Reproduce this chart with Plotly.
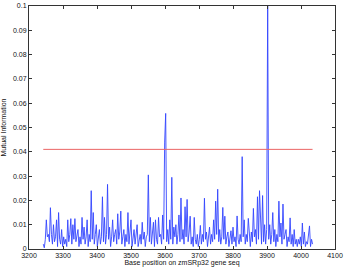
import plotly.graph_objects as go

start_bp = 3242
step_bp = 3
mi_values = [
    0.002, 0.0005, 0.004, 0.012, 0.005, 0.006, 0.003, 0.017, 0.006, 0.002,
    0.010, 0.003, 0.005, 0.012, 0.001, 0.015, 0.004, 0.002, 0.008, 0.001,
    0.005, 0.002, 0.004, 0.001, 0.012, 0.003, 0.006, 0.0125, 0.002, 0.010,
    0.004, 0.0125, 0.003, 0.006, 0.008, 0.001, 0.005, 0.002, 0.013, 0.004,
    0.009, 0.002, 0.005, 0.012, 0.001, 0.006, 0.003, 0.024, 0.004, 0.015,
    0.002, 0.006, 0.010, 0.001, 0.004, 0.008, 0.002, 0.005, 0.0215, 0.003,
    0.013, 0.002, 0.006, 0.0266, 0.004, 0.009, 0.001, 0.005, 0.012, 0.003,
    0.006, 0.008, 0.002, 0.0145, 0.004, 0.007, 0.0156, 0.002, 0.005, 0.008,
    0.001, 0.006, 0.003, 0.015, 0.002, 0.007, 0.012, 0.001, 0.004, 0.008,
    0.002, 0.005, 0.010, 0.001, 0.003, 0.006, 0.002, 0.011, 0.004, 0.007,
    0.001, 0.005, 0.006, 0.0305, 0.003, 0.013, 0.002, 0.006, 0.011, 0.001,
    0.012, 0.004, 0.002, 0.013, 0.005, 0.006, 0.002, 0.014, 0.004, 0.044,
    0.0558, 0.003, 0.008, 0.002, 0.012, 0.004, 0.0295, 0.002, 0.009, 0.005,
    0.010, 0.002, 0.006, 0.014, 0.003, 0.021, 0.004, 0.008, 0.002, 0.0174,
    0.005, 0.0204, 0.003, 0.007, 0.0135, 0.002, 0.005, 0.001, 0.013, 0.004,
    0.002, 0.006, 0.001, 0.004, 0.0097, 0.002, 0.006, 0.003, 0.0209, 0.004,
    0.007, 0.001, 0.005, 0.009, 0.002, 0.006, 0.003, 0.012, 0.004, 0.0197,
    0.006, 0.0246, 0.003, 0.008, 0.002, 0.005, 0.0171, 0.004, 0.0135, 0.002,
    0.005, 0.007, 0.001, 0.004, 0.0075, 0.002, 0.009, 0.003, 0.005, 0.001,
    0.0136, 0.004, 0.002, 0.006, 0.003, 0.038, 0.005, 0.012, 0.002, 0.006,
    0.003, 0.0126, 0.004, 0.001, 0.007, 0.003, 0.0167, 0.005, 0.008, 0.002,
    0.0215, 0.004, 0.024, 0.007, 0.002, 0.022, 0.003, 0.010, 0.002, 0.008,
    0.1, 0.004, 0.010, 0.002, 0.006, 0.015, 0.003, 0.008, 0.001, 0.006,
    0.003, 0.0197, 0.005, 0.0107, 0.002, 0.0185, 0.004, 0.006, 0.008, 0.001,
    0.005, 0.003, 0.0128, 0.002, 0.006, 0.001, 0.008, 0.002, 0.004, 0.001,
    0.004, 0.002, 0.005, 0.001, 0.0107, 0.002, 0.007, 0.001, 0.003, 0.002,
    0.005, 0.0095, 0.001, 0.004, 0.002,
]
positions = list(range(start_bp, start_bp + step_bp * len(mi_values), step_bp))
threshold = 0.041
x_ticks = [3200, 3300, 3400, 3500, 3600, 3700, 3800, 3900, 4000, 4100]
y_ticks = [0, 0.01, 0.02, 0.03, 0.04, 0.05, 0.06, 0.07, 0.08, 0.09, 0.1]
y_tick_labels = ["0", "0.01", "0.02", "0.03", "0.04", "0.05", "0.06", "0.07", "0.08", "0.09", "0.1"]

fig = go.Figure()
fig.add_trace(go.Scatter(
    x=positions, y=mi_values, mode="lines",
    line=dict(color="rgb(30,50,255)", width=0.9), opacity=0.9,
    showlegend=False, hoverinfo="skip"))
fig.add_trace(go.Scatter(
    x=[positions[0], positions[-1]], y=[threshold, threshold], mode="lines",
    line=dict(color="rgb(235,100,100)", width=1),
    showlegend=False, hoverinfo="skip"))

font = dict(family="Liberation Sans, Arial", size=7, color="#111")
axis_common = dict(
    showline=True, linecolor="#333", linewidth=1, mirror="allticks",
    ticks="inside", ticklen=3, tickcolor="#333", showgrid=False, zeroline=False,
    tickfont=font, automargin=False,
)
fig.update_xaxes(range=[3200, 4100], tickvals=x_ticks,
                 title=dict(text="Base position on zmSRp32 gene seq", font=font, standoff=1),
                 **axis_common)
fig.update_yaxes(range=[0, 0.1], tickvals=y_ticks, ticktext=y_tick_labels,
                 title=dict(text="Mutual Information", font=font, standoff=5),
                 **axis_common)
fig.update_layout(
    width=346, height=269,
    margin=dict(l=29, r=11, t=6, b=20, autoexpand=False),
    paper_bgcolor="white", plot_bgcolor="white",
)
fig.write_html("out.html", config={"displayModeBar": False},
               post_script="document.body.style.margin='0';document.body.style.overflow='hidden';")
